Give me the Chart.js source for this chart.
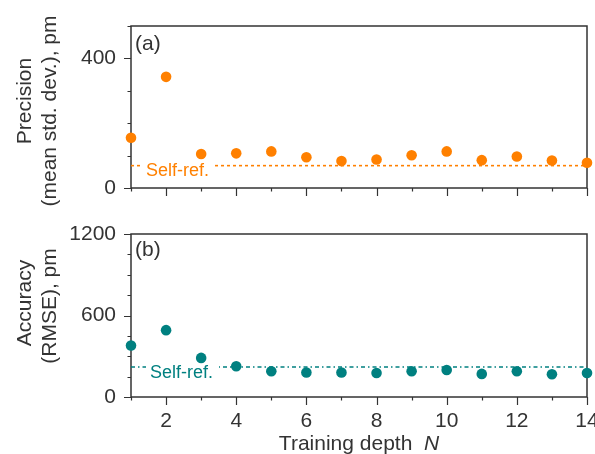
<!DOCTYPE html>
<html>
<head>
<meta charset="utf-8">
<script src="https://cdn.jsdelivr.net/npm/chart.js@4.4.1/dist/chart.umd.min.js"></script>
<style>
  body { margin: 0; background: #fff; }
  #wrap { position: relative; width: 595px; height: 454px; }
  canvas { position: absolute; left: 0; }
  #topChart { top: 0; }
  #bottomChart { top: 215px; }
</style>
</head>
<body>
<div id="wrap">
  <canvas id="topChart" width="595" height="215"></canvas>
  <canvas id="bottomChart" width="595" height="239"></canvas>
</div>
<script>
// data
const depthN = [1, 2, 3, 4, 5, 6, 7, 8, 9, 10, 11, 12, 13, 14];
const precision = [155, 343, 105, 107, 113, 95, 83, 88, 101, 113, 86, 97, 85, 78];
const precisionSelfRef = 69;
const accuracy = [379, 492, 288, 226, 190, 180, 180, 177, 190, 199, 170, 190, 168, 177];
const accuracySelfRef = 221;

const xTicks = [2, 4, 6, 8, 10, 12, 14];
const precisionTicks = [0, 400];
const accuracyTicks = [0, 600, 1200];

const orange = '#ff8000';
const teal = '#008080';
const ink = '#333333';
const fontFamily = '"Liberation Sans", Arial, sans-serif';

const toPoints = ys => depthN.map((n, i) => ({ x: n, y: ys[i] }));
const refLine = v => [{ x: depthN[0], y: v }, { x: depthN[depthN.length - 1], y: v }];

// box, minor ticks, panel letter, titles and the self-ref label
const framePlugin = {
  id: 'frame',
  beforeDatasetsDraw(chart, args, opts) {
    const { ctx, chartArea: a, scales: { x, y } } = chart;
    ctx.save();
    ctx.strokeStyle = ink;
    ctx.lineWidth = 1.5;
    ctx.strokeRect(a.left, a.top, a.right - a.left, a.bottom - a.top);

    ctx.lineWidth = 1.2;
    ctx.beginPath();
    for (let v = y.min; v <= y.max + 1e-6; v += opts.yMinor) {
      const py = Math.round(y.getPixelForValue(v)) + 0.5;
      const len = opts.yMajor.includes(v) ? 7 : 3.5;
      ctx.moveTo(a.left - len, py);
      ctx.lineTo(a.left, py);
    }
    for (let v = x.min; v <= x.max; v++) {
      const px = Math.round(x.getPixelForValue(v)) + 0.5;
      const len = xTicks.includes(v) ? 8 : 3.5;
      ctx.moveTo(px, a.bottom);
      ctx.lineTo(px, a.bottom + len);
    }
    ctx.stroke();

    ctx.fillStyle = ink;
    ctx.font = '21px ' + fontFamily;
    ctx.textAlign = 'left';
    ctx.textBaseline = 'middle';
    ctx.fillText(opts.panel, a.left + 4, a.top + opts.panelDy);

    // rotated y title, two lines
    ctx.font = '21px ' + fontFamily;
    ctx.textAlign = 'center';
    opts.yTitle.forEach((t, i) => {
      ctx.save();
      ctx.translate(opts.titleX[i], opts.titleY[i]);
      ctx.rotate(-Math.PI / 2);
      ctx.fillText(t, 0, 0);
      ctx.restore();
    });

    if (opts.xTitle) {
      const cy = opts.xTitleY;
      ctx.font = '21px ' + fontFamily;
      const w1 = ctx.measureText('Training depth  ').width;
      ctx.font = 'italic 21px ' + fontFamily;
      const w2 = ctx.measureText('N').width;
      const left = (a.left + a.right) / 2 - (w1 + w2) / 2;
      ctx.textAlign = 'left';
      ctx.font = '21px ' + fontFamily;
      ctx.fillText('Training depth  ', left, cy);
      ctx.font = 'italic 21px ' + fontFamily;
      ctx.fillText('N', left + w1, cy);
    }
    ctx.restore();
  },
  afterDatasetDraw(chart, args, opts) {
    if (args.index !== 1) return;
    const { ctx, chartArea: a, scales: { y } } = chart;
    const py = y.getPixelForValue(opts.refValue);
    ctx.save();
    ctx.font = '18px ' + fontFamily;
    const w = ctx.measureText('Self-ref.').width;
    const tx = a.left + opts.refDx;
    ctx.fillStyle = '#fff';
    ctx.fillRect(tx - 4, py - 3, w + 10, 18);
    ctx.fillStyle = opts.refColor;
    ctx.textAlign = 'left';
    ctx.textBaseline = 'middle';
    ctx.fillText('Self-ref.', tx, py + opts.refDy);
    ctx.restore();
  }
};

function makeChart(canvas, cfg) {
  return new Chart(canvas, {
    type: 'scatter',
    data: {
      datasets: [{
        data: toPoints(cfg.values),
        backgroundColor: cfg.color,
        borderColor: cfg.color,
        pointRadius: 5.3,
        pointHoverRadius: 5.3,
        borderWidth: 0,
        clip: false,
        order: 1
      }, {
        type: 'line',
        data: refLine(cfg.selfRef),
        borderColor: cfg.color,
        borderWidth: 1.6,
        borderDash: cfg.dash,
        pointRadius: 0,
        fill: false,
        order: 2
      }]
    },
    options: {
      responsive: false,
      animation: false,
      devicePixelRatio: 1,
      layout: { padding: { top: cfg.padTop, right: 8, left: 0, bottom: 0 } },
      plugins: {
        legend: { display: false },
        tooltip: { enabled: false },
        frame: cfg.frame
      },
      scales: {
        x: {
          type: 'linear',
          min: 1,
          max: 14,
          afterBuildTicks: s => { s.ticks = xTicks.map(v => ({ value: v })); },
          afterFit: s => {
            s.height = cfg.xHeight;
            s.paddingLeft = 0;
            s.paddingRight = 0;
          },
          grid: { display: false },
          border: { display: false },
          ticks: {
            display: cfg.showX,
            padding: 4,
            maxRotation: 0,
            color: ink,
            font: { family: fontFamily, size: 21 },
            callback: v => String(v)
          }
        },
        y: {
          min: 0,
          max: cfg.yMax,
          afterBuildTicks: s => { s.ticks = cfg.yTicks.map(v => ({ value: v })); },
          afterFit: s => {
            s.width = 131;
            s.paddingTop = 0;
            s.paddingBottom = 0;
          },
          grid: { display: false },
          border: { display: false },
          ticks: {
            padding: 7,
            color: ink,
            font: { family: fontFamily, size: 21 },
            callback: v => String(v)
          }
        }
      }
    },
    plugins: [framePlugin]
  });
}

makeChart(document.getElementById('topChart'), {
  values: precision,
  selfRef: precisionSelfRef,
  color: orange,
  dash: [3, 3],
  yMax: 500,
  yTicks: precisionTicks,
  padTop: 26,
  xHeight: 27,
  showX: false,
  frame: {
    yMinor: 100,
    yMajor: precisionTicks,
    panel: '(a)',
    panelDy: 18,
    yTitle: ['Precision', '(mean std. dev.), pm'],
    titleX: [25, 50],
    titleY: [101, 111],
    refValue: precisionSelfRef,
    refColor: orange,
    refDx: 15,
    refDy: 5
  }
});

makeChart(document.getElementById('bottomChart'), {
  values: accuracy,
  selfRef: accuracySelfRef,
  color: teal,
  dash: [4, 3, 1.5, 3],
  yMax: 1200,
  yTicks: accuracyTicks,
  padTop: 19,
  xHeight: 57,
  showX: true,
  frame: {
    yMinor: 150,
    yMajor: accuracyTicks,
    panel: '(b)',
    panelDy: 16,
    yTitle: ['Accuracy', '(RMSE), pm'],
    titleX: [25, 50],
    titleY: [88, 91],
    xTitle: true,
    xTitleY: 229,
    refValue: accuracySelfRef,
    refColor: teal,
    refDx: 19,
    refDy: 6
  }
});
</script>
</body>
</html>
